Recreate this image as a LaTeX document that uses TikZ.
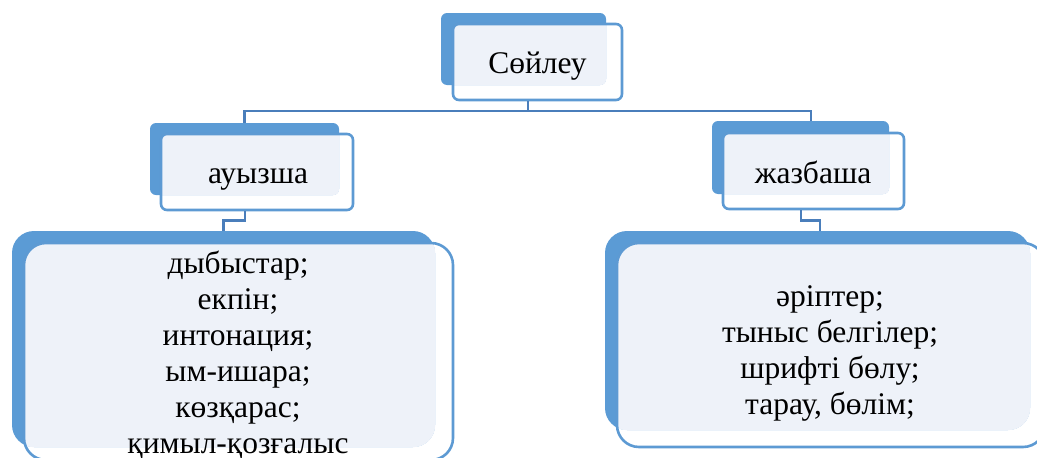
\documentclass[tikz,border=0pt]{standalone}
\usepackage{fontspec}
\setmainfont{Liberation Serif}
\definecolor{bfill}{HTML}{5B9BD5}
\definecolor{lfill}{HTML}{EEF2F9}
\definecolor{oline}{HTML}{5D9AD3}
\definecolor{cline}{HTML}{4A7EBB}
\tikzset{
  back/.style={fill=bfill, draw=none, inner sep=0pt, rounded corners=#1},
  outl/.style={draw=oline, line width=2.6pt, inner sep=0pt, rounded corners=#1},
  txt/.style={font=\fontsize{31.5}{36}\selectfont, inner sep=0pt, text=black},
  conn/.style={draw=cline, line width=2.8pt},
}
\begin{document}
\begin{tikzpicture}[x=1pt,y=-1pt]
\useasboundingbox (0,0) rectangle (1037,458);
\clip (0,0) rectangle (1037,458);

% ---- top box
\node[back=6, minimum width=165, minimum height=72] (topb) at (523.5,49) {};
\begin{scope}
\clip[rounded corners=6] (topb.south west) rectangle (topb.north east);
\fill[lfill, rounded corners=6] (453,24) rectangle (622,100);
\end{scope}
\node[outl=6, minimum width=169, minimum height=76] (top) at (537.5,62) {};
\node[txt, anchor=base] (toptxt) at (537.5,73) {Сөйлеу};

% ---- ауызша
\node[back=6, minimum width=189, minimum height=72] (ayzb) at (244.5,159) {};
\begin{scope}
\clip[rounded corners=6] (ayzb.south west) rectangle (ayzb.north east);
\fill[lfill, rounded corners=6] (161,134) rectangle (353,210);
\end{scope}
\node[outl=6, minimum width=192, minimum height=76] (ayz) at (257,172) {};
\node[txt, anchor=base] (ayztxt) at (258,183) {ауызша};

% ---- жазбаша
\node[back=6, minimum width=177, minimum height=73] (jazb) at (800.5,157.5) {};
\begin{scope}
\clip[rounded corners=6] (jazb.south west) rectangle (jazb.north east);
\fill[lfill, rounded corners=6] (723,133) rectangle (904,209);
\end{scope}
\node[outl=6, minimum width=181, minimum height=76] (jaz) at (813.5,171) {};
\node[txt, anchor=base] (jaztxt) at (813,183) {жазбаша};

% ---- left big box
\node[back=22, minimum width=423, minimum height=216] (bigLb) at (223.5,339) {};
\begin{scope}
\clip[rounded corners=22] (bigLb.south west) rectangle (bigLb.north east);
\fill[lfill, rounded corners=22] (24,243) rectangle (453,460);
\end{scope}
\node[outl=22, minimum width=429, minimum height=217] (bigL) at (238.5,351.5) {};
\node[txt, align=center] (bigLtxt) at (238,355.5) {дыбыстар;\\екпін;\\интонация;\\ым-ишара;\\көзқарас;\\қимыл-қозғалыс};

% ---- right big box
\node[back=22, minimum width=425, minimum height=199] (bigRb) at (817.5,330.5) {};
\begin{scope}
\clip[rounded corners=22] (bigRb.south west) rectangle (bigRb.north east);
\fill[lfill, rounded corners=22] (617,243) rectangle (1045,447);
\end{scope}
\node[outl=22, minimum width=428, minimum height=204] (bigR) at (831,345) {};
\node[txt, align=center] (bigRtxt) at (830,353) {әріптер;\\тыныс белгілер;\\шрифті бөлу;\\тарау, бөлім;};

% ---- connectors
\coordinate (jt) at (528,111);
\draw[conn] ([xshift=-9.5pt]top.south) -- (jt);
\draw[conn] (ayzb.north) |- (jt) -| ([xshift=10.5pt]jazb.north);
\draw[conn] ([xshift=-12pt]ayz.south) -- ++(0,9) -| (bigLb.north);
\draw[conn] ([xshift=-12.5pt]jaz.south) -- ++(0,10) -| ([xshift=2.5pt]bigRb.north);
\end{tikzpicture}
\end{document}
